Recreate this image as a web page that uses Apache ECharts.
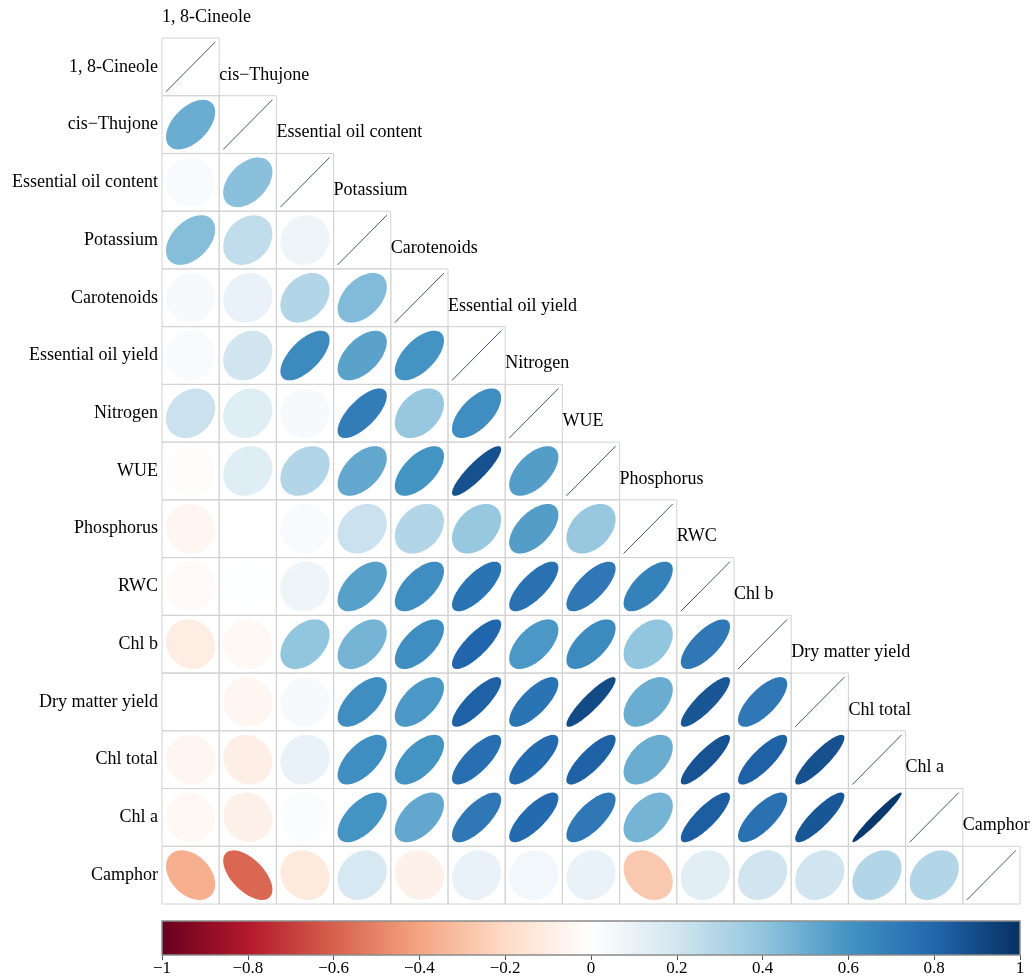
<!DOCTYPE html>
<html>
<head>
<meta charset="utf-8">
<script src="https://cdn.jsdelivr.net/npm/echarts@6/dist/echarts.min.js"></script>
<style>
  html, body { margin: 0; padding: 0; background: #fff; }
  #main { width: 1035px; height: 977px; }
</style>
</head>
<body>
<div id="main"></div>
<script>
// variable names, same order on rows and columns
var names = ['1, 8-Cineole', 'cis\u2212Thujone', 'Essential oil content', 'Potassium', 'Carotenoids',
  'Essential oil yield', 'Nitrogen', 'WUE', 'Phosphorus', 'RWC', 'Chl b', 'Dry matter yield',
  'Chl total', 'Chl a', 'Camphor'];

var rThujone = [0.50];
var rOilContent = [0.03, 0.42];
var rPotassium = [0.43, 0.25, 0.08];
var rCarotenoids = [0.04, 0.10, 0.30, 0.44];
var rOilYield = [0.03, 0.20, 0.64, 0.54, 0.60];
var rNitrogen = [0.22, 0.14, 0.04, 0.70, 0.38, 0.62];
var rWUE = [-0.01, 0.14, 0.30, 0.52, 0.60, 0.88, 0.56];
var rPhosphorus = [-0.05, 0.00, 0.03, 0.22, 0.30, 0.38, 0.56, 0.38];
var rRWC = [-0.03, 0.01, 0.08, 0.55, 0.62, 0.74, 0.75, 0.72, 0.68];
var rChlb = [-0.10, -0.04, 0.40, 0.47, 0.62, 0.80, 0.58, 0.64, 0.40, 0.72];
var rDryMatter = [0.00, -0.05, 0.04, 0.62, 0.58, 0.82, 0.74, 0.90, 0.50, 0.86, 0.72];
var rChlTotal = [-0.05, -0.09, 0.10, 0.62, 0.60, 0.76, 0.78, 0.82, 0.50, 0.87, 0.82, 0.88];
var rChla = [-0.04, -0.08, 0.02, 0.60, 0.52, 0.72, 0.78, 0.72, 0.47, 0.83, 0.75, 0.86, 0.97];
var rCamphor = [-0.36, -0.58, -0.12, 0.18, -0.08, 0.10, 0.06, 0.10, -0.27, 0.13, 0.20, 0.20, 0.30, 0.30];

var lower = [[], rThujone, rOilContent, rPotassium, rCarotenoids, rOilYield, rNitrogen, rWUE,
  rPhosphorus, rRWC, rChlb, rDryMatter, rChlTotal, rChla, rCamphor];

// RdBu palette used by corrplot
var palette = ['#67001F', '#B2182B', '#D6604D', '#F4A582', '#FDDBC7', '#FFFFFF',
  '#D1E5F0', '#92C5DE', '#4393C3', '#2166AC', '#053061'];

var barTicks = [-1, 1];

var cells = [];
lower.forEach(function (row, i) {
  row.forEach(function (r, j) {
    cells.push([j, i, r]);
  });
  cells.push([i, i, 1]); // diagonal
});

var font = '"Liberation Serif", "Times New Roman", serif';

function colorOf(r) {
  return echarts.color.lerp((r + 1) / 2, palette);
}

function renderCell(params, api) {
  var col = api.value(0), row = api.value(1), r = api.value(2);
  var c = api.coord([col, row]);
  var s = api.size([1, 1]);
  var w = s[0], h = s[1];
  var children = [{
    type: 'rect',
    shape: { x: c[0] - w / 2, y: c[1] - h / 2, width: w, height: h },
    style: { fill: 'none', stroke: '#d2d2d2', lineWidth: 1 }
  }];
  var d = Math.acos(Math.max(-1, Math.min(1, r)));
  var pts = [];
  for (var k = 0; k < 80; k++) {
    var t = k / 80 * Math.PI * 2;
    pts.push([c[0] + w * 0.43 * Math.cos(t + d / 2), c[1] - h * 0.43 * Math.cos(t - d / 2)]);
  }
  if (col === row) {
    children.push({
      type: 'line',
      shape: { x1: c[0] - w * 0.43, y1: c[1] + h * 0.43, x2: c[0] + w * 0.43, y2: c[1] - h * 0.43 },
      style: { stroke: '#3b5878', lineWidth: 1 }
    });
    children.push({
      type: 'text',
      style: {
        text: names[col], x: c[0] - w / 2, y: c[1] - h + 8,
        fill: '#000', font: '18px ' + font, align: 'left', verticalAlign: 'middle'
      }
    });
  } else {
    children.push({
      type: 'polygon',
      shape: { points: pts },
      style: { fill: colorOf(r), stroke: null }
    });
  }
  return { type: 'group', children: children };
}

function renderBar(params, api) {
  var p0 = api.coord([api.value(0), 1]);
  var p1 = api.coord([api.value(1), 0]);
  var stops = palette.map(function (col, k) {
    return { offset: k / (palette.length - 1), color: col };
  });
  return {
    type: 'rect',
    shape: { x: p0[0], y: p0[1], width: p1[0] - p0[0], height: p1[1] - p0[1] },
    style: {
      fill: new echarts.graphic.LinearGradient(0, 0, 1, 0, stops),
      stroke: '#8a8a8a', lineWidth: 1.5
    }
  };
}

var chart = echarts.init(document.getElementById('main'));
chart.setOption({
  backgroundColor: '#fff',
  animation: false,
  grid: [
    { left: 162, top: 38, width: 858, height: 866 },
    { left: 162, top: 921, width: 858, height: 35 }
  ],
  xAxis: [
    {
      type: 'category', data: names, gridIndex: 0,
      axisLine: { show: false }, axisTick: { show: false }, axisLabel: { show: false }, splitLine: { show: false }
    },
    {
      type: 'value', gridIndex: 1, min: -1, max: 1, interval: 0.2,
      axisLine: { show: false },
      axisTick: { show: true, length: 5, lineStyle: { color: '#555' } },
      splitLine: { show: false },
      axisLabel: {
        margin: 5, color: '#000', fontFamily: font, fontSize: 17,
        formatter: function (v) { return String(+v.toFixed(1)).replace('-', '\u2212'); }
      }
    }
  ],
  yAxis: [
    {
      type: 'category', data: names, gridIndex: 0, inverse: true,
      axisLine: { show: false }, axisTick: { show: false }, splitLine: { show: false },
      axisLabel: { margin: 4, color: '#000', fontFamily: font, fontSize: 18 }
    },
    { type: 'value', gridIndex: 1, min: 0, max: 1, show: false }
  ],
  series: [
    {
      type: 'custom', xAxisIndex: 0, yAxisIndex: 0,
      renderItem: renderCell, data: cells, clip: false
    },
    {
      type: 'custom', xAxisIndex: 1, yAxisIndex: 1,
      renderItem: renderBar, data: [barTicks], clip: false
    }
  ]
});
</script>
</body>
</html>
